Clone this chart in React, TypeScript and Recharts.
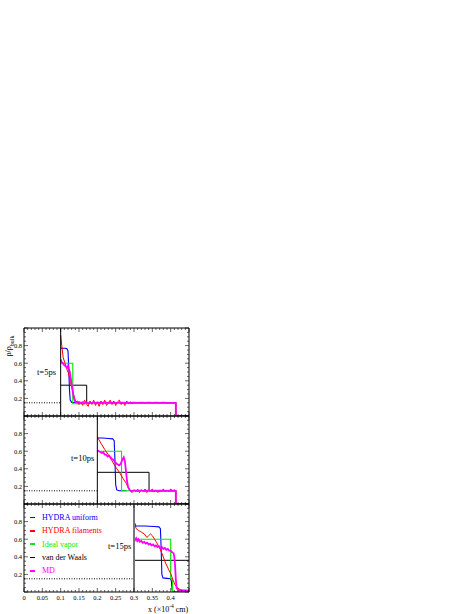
import React from 'react'
import { LineChart, Line, XAxis, YAxis, ReferenceLine } from 'recharts'

type Pt = { x: number; y: number }
const pts = (a: number[][]): Pt[] => a.map(([x, y]) => ({ x, y }))

const SERIF = '"Liberation Serif", "DejaVu Serif", serif'

// axis ticks and labels
const X_MAJOR = [0, 0.05, 0.1, 0.15, 0.2, 0.25, 0.3, 0.35, 0.4, 0.45]
const X_LABELS = ['0', '0.05', '0.1', '0.15', '0.2', '0.25', '0.3', '0.35', '0.4', '']
const X_MINOR = [
  0, 0.01, 0.02, 0.03, 0.04, 0.05, 0.06, 0.07, 0.08, 0.09, 0.1, 0.11, 0.12, 0.13, 0.14, 0.15,
  0.16, 0.17, 0.18, 0.19, 0.2, 0.21, 0.22, 0.23, 0.24, 0.25, 0.26, 0.27, 0.28, 0.29, 0.3,
  0.31, 0.32, 0.33, 0.34, 0.35, 0.36, 0.37, 0.38, 0.39, 0.4, 0.41, 0.42, 0.43, 0.44, 0.45,
]
const Y_MAJOR = [0, 0.2, 0.4, 0.6, 0.8, 1]
const Y_LABELS = ['', '0.2', '0.4', '0.6', '0.8', '']
const Y_MINOR = [
  0, 0.05, 0.1, 0.15, 0.2, 0.25, 0.3, 0.35, 0.4, 0.45, 0.5, 0.55, 0.6, 0.65, 0.7, 0.75, 0.8,
  0.85, 0.9, 0.95, 1,
]

const SERIES = ['HYDRA uniform', 'HYDRA filaments', 'Ideal vapor', 'van der Waals', 'MD']
const COLORS = ['#0000ff', '#ff0000', '#00ee00', '#000000', '#ff00ff']

// t = 5 ps
const blue5 = pts([
  [0.1, 0.77], [0.112, 0.77], [0.117, 0.765], [0.12, 0.74], [0.122, 0.55], [0.124, 0.3],
  [0.126, 0.18], [0.13, 0.155], [0.16, 0.15],
])
const green5 = pts([[0.1, 0.6], [0.133, 0.6], [0.133, 0.14], [0.17, 0.14]])
const vdw5 = pts([[0.1, 0.35], [0.171, 0.35], [0.171, 0.15], [0.414, 0.15], [0.414, 0]])
const red5 = pts([
  [0.1, 0.92], [0.103, 0.8], [0.107, 0.66], [0.112, 0.6], [0.116, 0.54], [0.121, 0.49],
  [0.127, 0.38], [0.133, 0.28], [0.138, 0.2], [0.142, 0.16], [0.146, 0.17], [0.15, 0.13],
  [0.155, 0.16], [0.16, 0.12], [0.165, 0.18], [0.17, 0.14], [0.175, 0.11], [0.18, 0.17],
  [0.185, 0.13], [0.19, 0.18], [0.195, 0.12], [0.2, 0.16], [0.205, 0.11], [0.21, 0.17],
  [0.215, 0.13], [0.22, 0.18], [0.225, 0.12], [0.23, 0.15], [0.235, 0.18], [0.24, 0.13],
  [0.245, 0.17], [0.25, 0.12], [0.255, 0.16], [0.26, 0.18], [0.265, 0.13], [0.27, 0.16],
  [0.275, 0.12], [0.28, 0.17], [0.285, 0.14], [0.29, 0.16], [0.295, 0.14], [0.3, 0.15],
  [0.414, 0.15], [0.414, 0], [0.45, 0],
])
const md5 = pts([
  [0.1, 0.64], [0.103, 0.61], [0.106, 0.6], [0.109, 0.58], [0.112, 0.57], [0.115, 0.56],
  [0.118, 0.55], [0.12, 0.57], [0.122, 0.54], [0.125, 0.5], [0.128, 0.42], [0.131, 0.33],
  [0.134, 0.25], [0.137, 0.19], [0.14, 0.16], [0.145, 0.15], [0.15, 0.158], [0.155, 0.146],
  [0.16, 0.156], [0.165, 0.144], [0.17, 0.157], [0.175, 0.145], [0.18, 0.155], [0.185, 0.147],
  [0.19, 0.156], [0.195, 0.146], [0.2, 0.154], [0.21, 0.147], [0.22, 0.155], [0.23, 0.148],
  [0.24, 0.153], [0.25, 0.147], [0.26, 0.154], [0.27, 0.148], [0.28, 0.153], [0.29, 0.148],
  [0.3, 0.152], [0.31, 0.149], [0.32, 0.152], [0.33, 0.149], [0.34, 0.151], [0.35, 0.149],
  [0.36, 0.151], [0.37, 0.15], [0.38, 0.151], [0.39, 0.149], [0.4, 0.15], [0.414, 0.15],
  [0.414, 0], [0.45, 0],
])

// t = 10 ps
const blue10 = pts([
  [0.2, 0.75], [0.215, 0.75], [0.23, 0.745], [0.242, 0.74], [0.246, 0.72], [0.248, 0.5],
  [0.25, 0.22], [0.253, 0.16], [0.26, 0.15], [0.28, 0.15],
])
const green10 = pts([[0.2, 0.6], [0.266, 0.6], [0.266, 0.15], [0.3, 0.15]])
const vdw10 = pts([[0.2, 0.36], [0.341, 0.36], [0.341, 0.15], [0.414, 0.15], [0.414, 0]])
const red10 = pts([
  [0.2, 0.76], [0.21, 0.69], [0.22, 0.62], [0.23, 0.56], [0.24, 0.49], [0.25, 0.42],
  [0.26, 0.36], [0.27, 0.29], [0.278, 0.24], [0.284, 0.19], [0.29, 0.15], [0.295, 0.13],
  [0.3, 0.16], [0.305, 0.14], [0.31, 0.17], [0.315, 0.13], [0.32, 0.16], [0.325, 0.14],
  [0.33, 0.17], [0.335, 0.13], [0.34, 0.16], [0.345, 0.15], [0.35, 0.17], [0.355, 0.14],
  [0.36, 0.16], [0.365, 0.13], [0.37, 0.16], [0.375, 0.15], [0.38, 0.17], [0.385, 0.14],
  [0.39, 0.16], [0.395, 0.14], [0.4, 0.17], [0.405, 0.15], [0.41, 0.16], [0.414, 0.15],
  [0.414, 0], [0.45, 0],
])
const md10 = pts([
  [0.2, 0.61], [0.204, 0.6], [0.208, 0.59], [0.212, 0.58], [0.216, 0.59], [0.22, 0.56],
  [0.224, 0.56], [0.228, 0.54], [0.232, 0.55], [0.236, 0.53], [0.24, 0.51], [0.244, 0.5],
  [0.248, 0.48], [0.252, 0.46], [0.256, 0.45], [0.26, 0.44], [0.264, 0.46], [0.268, 0.5],
  [0.272, 0.53], [0.275, 0.49], [0.278, 0.38], [0.281, 0.26], [0.284, 0.19], [0.288, 0.16],
  [0.293, 0.145], [0.3, 0.155], [0.31, 0.146], [0.32, 0.154], [0.33, 0.147], [0.34, 0.153],
  [0.35, 0.148], [0.36, 0.153], [0.37, 0.148], [0.38, 0.152], [0.39, 0.149], [0.4, 0.152],
  [0.414, 0.15], [0.414, 0], [0.45, 0],
])

// t = 15 ps
const blue15 = pts([
  [0.3, 0.76], [0.302, 0.78], [0.305, 0.75], [0.33, 0.75], [0.355, 0.745], [0.368, 0.74],
  [0.372, 0.72], [0.374, 0.5], [0.376, 0.2], [0.379, 0.16], [0.39, 0.155], [0.4, 0.15],
  [0.402, 0.12], [0.404, 0.02], [0.406, 0], [0.45, 0],
])
const green15 = pts([[0.3, 0.6], [0.4, 0.6], [0.4, 0.15], [0.405, 0.15], [0.405, 0], [0.45, 0]])
const vdw15 = pts([[0.3, 0.36], [0.45, 0.36]])
const red15 = pts([
  [0.3, 0.8], [0.302, 0.77], [0.306, 0.72], [0.312, 0.7], [0.32, 0.68], [0.328, 0.66],
  [0.335, 0.62], [0.34, 0.64], [0.345, 0.66], [0.35, 0.64], [0.356, 0.6], [0.362, 0.56],
  [0.37, 0.5], [0.378, 0.42], [0.386, 0.33], [0.394, 0.26], [0.4, 0.21], [0.406, 0.14],
  [0.412, 0.08], [0.42, 0.04], [0.43, 0.02], [0.45, 0.01],
])
const md15 = pts([
  [0.3, 0.6], [0.303, 0.59], [0.306, 0.61], [0.309, 0.58], [0.312, 0.6], [0.316, 0.57],
  [0.32, 0.58], [0.324, 0.56], [0.328, 0.57], [0.332, 0.55], [0.336, 0.56], [0.34, 0.54],
  [0.344, 0.55], [0.348, 0.53], [0.352, 0.54], [0.356, 0.52], [0.36, 0.53], [0.364, 0.51],
  [0.368, 0.52], [0.372, 0.5], [0.376, 0.51], [0.38, 0.49], [0.384, 0.5], [0.388, 0.48],
  [0.392, 0.49], [0.396, 0.47], [0.4, 0.47], [0.404, 0.45], [0.408, 0.44], [0.41, 0.4],
  [0.412, 0.3], [0.414, 0.15], [0.416, 0.05], [0.42, 0.025], [0.43, 0.02], [0.45, 0.015],
])

const near = (a: number[], v: number) => a.findIndex((m) => Math.abs(m - v) < 1e-6)

// inward tick marks drawn by hand, labels only where asked
function makeTick(side: 'bottom' | 'top' | 'left' | 'right', labels: boolean) {
  return (p: any) => {
    const { x, y, payload } = p
    const v = payload.value
    const majors = side === 'bottom' || side === 'top' ? X_MAJOR : Y_MAJOR
    const texts = side === 'bottom' || side === 'top' ? X_LABELS : Y_LABELS
    const mi = near(majors, v)
    const len = mi >= 0 ? 4 : 2
    let l = { x1: x, y1: y, x2: x, y2: y - len }
    if (side === 'top') l = { x1: x, y1: y, x2: x, y2: y + len }
    if (side === 'left') l = { x1: x, y1: y, x2: x + len, y2: y }
    if (side === 'right') l = { x1: x, y1: y, x2: x - len, y2: y }
    const txt = labels && mi >= 0 ? texts[mi] : ''
    return (
      <g>
        <line {...l} stroke="#000" strokeWidth={0.6} />
        {txt && side === 'bottom' && (
          <text x={x} y={y + 8} textAnchor="middle" fontSize={6.5} fontFamily={SERIF} fill="#000">{txt}</text>
        )}
        {txt && side === 'left' && (
          <text x={x - 2} y={y + 2.3} textAnchor="end" fontSize={6.5} fontFamily={SERIF} fill="#000">{txt}</text>
        )}
      </g>
    )
  }
}

type PanelProps = {
  top: number
  front: number
  label: string
  labelX: number
  labelY: number
  lines: Pt[][]
  frontColor: string
  frontWidth: number
  showX: boolean
}

const axisCommon = { interval: 0 as const, tickSize: 0, tickMargin: 0, tickLine: false, stroke: '#000', allowDataOverflow: true }

function Panel({ top, front, label, labelX, labelY, lines, frontColor, frontWidth, showX }: PanelProps) {
  const [blue, red, green, vdw, md] = lines
  const dotted = pts([[0, 0.15], [front, 0.15]])
  return (
    <div style={{ position: 'absolute', left: 0, top: top - 10 }}>
      <LineChart width={474} height={128} margin={{ top: 9, right: 284, bottom: 29, left: 23 }}>
        <XAxis xAxisId="b" orientation="bottom" type="number" dataKey="x" domain={[0, 0.45]}
          ticks={X_MINOR} height={1} tick={makeTick('bottom', showX)} {...axisCommon} />
        <XAxis xAxisId="t" orientation="top" type="number" dataKey="x" domain={[0, 0.45]}
          ticks={X_MINOR} height={1} tick={makeTick('top', false)} {...axisCommon} />
        <YAxis yAxisId="l" orientation="left" type="number" domain={[0, 1]} ticks={Y_MINOR}
          width={1} tick={makeTick('left', true)} {...axisCommon} />
        <YAxis yAxisId="r" orientation="right" type="number" domain={[0, 1]} ticks={Y_MINOR}
          width={1} tick={makeTick('right', false)} {...axisCommon} />

        <Line xAxisId="b" yAxisId="l" data={dotted} dataKey="y" stroke="#000" strokeWidth={1}
          strokeDasharray="1 1.5" dot={false} isAnimationActive={false} />
        <Line xAxisId="b" yAxisId="l" data={vdw} dataKey="y" stroke={COLORS[3]} strokeWidth={1}
          dot={false} isAnimationActive={false} />
        <Line xAxisId="b" yAxisId="l" data={blue} dataKey="y" stroke={COLORS[0]} strokeWidth={1.1}
          dot={false} isAnimationActive={false} />
        <Line xAxisId="b" yAxisId="l" data={green} dataKey="y" stroke={COLORS[2]} strokeWidth={1.1}
          dot={false} isAnimationActive={false} />
        <Line xAxisId="b" yAxisId="l" data={red} dataKey="y" stroke={COLORS[1]} strokeWidth={1}
          dot={false} isAnimationActive={false} />
        <Line xAxisId="b" yAxisId="l" data={md} dataKey="y" stroke={COLORS[4]} strokeWidth={1.8}
          dot={false} isAnimationActive={false} />
        <ReferenceLine xAxisId="b" yAxisId="l" x={front} stroke={frontColor} strokeWidth={frontWidth} />
      </LineChart>
      <div style={{ position: 'absolute', left: labelX, top: labelY + 10 - top, fontFamily: SERIF,
        fontSize: 8.5, lineHeight: '10px', whiteSpace: 'nowrap' }}>{label}</div>
    </div>
  )
}

export default function App() {
  return (
    <div style={{ position: 'absolute', left: 0, top: 0, width: 474, height: 614, background: '#fff' }}>
      <Panel top={328} front={0.1} label="t=5ps" labelX={37} labelY={367}
        lines={[blue5, red5, green5, vdw5, md5]} frontColor="#000" frontWidth={1} showX={false} />
      <Panel top={416} front={0.2} label="t=10ps" labelX={71} labelY={453}
        lines={[blue10, red10, green10, vdw10, md10]} frontColor="#000" frontWidth={1} showX={false} />
      <Panel top={504} front={0.3} label="t=15ps" labelX={108} labelY={541}
        lines={[blue15, red15, green15, vdw15, md15]} frontColor="#777" frontWidth={2} showX={true} />

      <div style={{ position: 'absolute', left: 27, top: 511, fontFamily: SERIF, fontSize: 8 }}>
        {SERIES.map((s, i) => (
          <div key={s} style={{ display: 'flex', alignItems: 'center', height: 13.3 }}>
            <span style={{ display: 'inline-block', width: 5, height: 1.5, background: COLORS[i],
              marginLeft: 3, marginRight: 7 }} />
            <span style={{ color: COLORS[i], whiteSpace: 'nowrap' }}>{s}</span>
          </div>
        ))}
      </div>

      <div style={{ position: 'absolute', left: -11, top: 341, width: 40, height: 10, transform: 'rotate(-90deg)',
        fontFamily: SERIF, fontSize: 8, lineHeight: '10px', textAlign: 'center', whiteSpace: 'nowrap' }}>
        ρ/ρ<sub style={{ fontSize: 6 }}>bulk</sub>
      </div>

      <div style={{ position: 'absolute', left: 148, top: 601, fontFamily: SERIF, fontSize: 8,
        lineHeight: '10px', whiteSpace: 'nowrap' }}>
        x (×10<sup style={{ fontSize: 5.5 }}>-4</sup> cm)
      </div>
    </div>
  )
}
